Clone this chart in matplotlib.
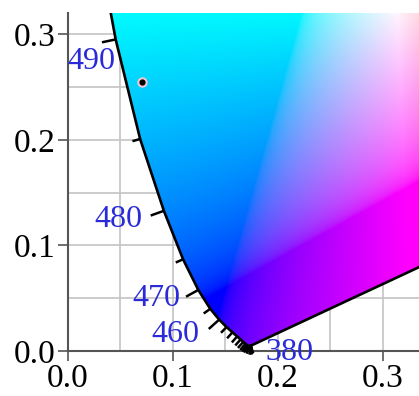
#!/usr/bin/env python3
import matplotlib
matplotlib.use("Agg")
import matplotlib.pyplot as plt
import numpy as np
from matplotlib.patches import Polygon
from matplotlib.ticker import MultipleLocator

plt.rcParams["font.family"] = "Liberation Serif"

# --- Data: CIE 1931 2-degree spectral locus, 5 nm steps ---
wavelengths = np.arange(380, 705, 5)
locus_x = np.array([
    0.1741, 0.1740, 0.1738, 0.1736, 0.1733, 0.1730, 0.1726, 0.1721,
    0.1714, 0.1703, 0.1689, 0.1669, 0.1644, 0.1611, 0.1566, 0.1510,
    0.1440, 0.1355, 0.1241, 0.1096, 0.0913, 0.0687, 0.0454, 0.0235,
    0.0082, 0.0039, 0.0139, 0.0389, 0.0743, 0.1142, 0.1547, 0.1929,
    0.2296, 0.2658, 0.3016, 0.3373, 0.3731, 0.4087, 0.4441, 0.4788,
    0.5125, 0.5448, 0.5752, 0.6029, 0.6270, 0.6482, 0.6658, 0.6801,
    0.6915, 0.7006, 0.7079, 0.7140, 0.7190, 0.7230, 0.7260, 0.7283,
    0.7300, 0.7311, 0.7320, 0.7327, 0.7334, 0.7340, 0.7344, 0.7346,
    0.7347,
])
locus_y = np.array([
    0.0050, 0.0050, 0.0049, 0.0049, 0.0048, 0.0048, 0.0048, 0.0048,
    0.0051, 0.0058, 0.0069, 0.0086, 0.0109, 0.0138, 0.0177, 0.0227,
    0.0297, 0.0399, 0.0578, 0.0868, 0.1327, 0.2007, 0.2950, 0.4127,
    0.5384, 0.6548, 0.7502, 0.8120, 0.8338, 0.8262, 0.8059, 0.7816,
    0.7543, 0.7243, 0.6923, 0.6589, 0.6245, 0.5896, 0.5547, 0.5202,
    0.4866, 0.4544, 0.4242, 0.3965, 0.3725, 0.3514, 0.3340, 0.3197,
    0.3083, 0.2993, 0.2920, 0.2859, 0.2809, 0.2770, 0.2740, 0.2717,
    0.2700, 0.2689, 0.2680, 0.2673, 0.2666, 0.2660, 0.2656, 0.2654,
    0.2653,
])

labeled_nm = [380, 460, 470, 480, 490]

# marked chromaticity point
point_x = [0.0702]
point_y = [0.2545]

# --- Layout ---
xmax, ymax = 0.3343, 0.320
label_offsets = {  # pixels from locus point to label centre
    380: (39, -7),
    460: (-44, -15),
    470: (-42, -9),
    480: (-45, -9),
    490: (-24, -22),
}
blue = "#2a2ad8"

fig = plt.figure(figsize=(4.19, 3.96), dpi=100)
ax = fig.add_axes([68 / 419, 45 / 396, 351 / 419, 338 / 396])
ax.set_xlim(0, xmax)
ax.set_ylim(0, ymax)

# --- Colour fill inside the locus ---
gx = np.linspace(0, xmax, 500)
gy = np.linspace(0, ymax, 480)
X, Y = np.meshgrid(gx, gy)
Y = np.maximum(Y, 1e-4)
xyz = np.stack([X / Y, np.ones_like(X), (1 - X - Y) / Y], axis=-1)
M = np.array([[3.2406, -1.5372, -0.4986],
              [-0.9689, 1.8758, 0.0415],
              [0.0557, -0.2040, 1.0570]])
rgb = np.clip(xyz @ M.T, 0, None)
rgb /= rgb.max(axis=-1, keepdims=True)
rgb = np.where(rgb <= 0.0031308, 12.92 * rgb, 1.055 * rgb ** (1 / 2.4) - 0.055)

im = ax.imshow(rgb, origin="lower", extent=[0, xmax, 0, ymax],
               aspect="auto", interpolation="bilinear", zorder=1)
poly = Polygon(np.column_stack([locus_x, locus_y]), closed=True,
               transform=ax.transData)
im.set_clip_path(poly)

ax.plot(np.append(locus_x, locus_x[0]), np.append(locus_y, locus_y[0]),
        color="black", lw=1.9, zorder=3, solid_joinstyle="round")

# --- Wavelength ticks (normal to the locus, outward) ---
pts = ax.transData.transform(np.column_stack([locus_x, locus_y]))
inv = ax.transData.inverted()
for i, nm in enumerate(wavelengths):
    if locus_y[i] > ymax or nm > 500:
        continue
    a = pts[max(i - 1, 0)]
    b = pts[min(i + 1, len(pts) - 1)]
    t = b - a
    t = t / np.hypot(*t)
    n = np.array([-t[1], t[0]])
    length = 14 if nm in labeled_nm and nm != 380 else 8
    end = inv.transform([pts[i], pts[i] + n * length])
    ax.plot(end[:, 0], end[:, 1], color="black", lw=1.8,
            clip_on=False, zorder=3, solid_capstyle="butt")

for nm in labeled_nm:
    i = list(wavelengths).index(nm)
    ax.annotate(str(nm), xy=(locus_x[i], locus_y[i]),
                xytext=label_offsets[nm], textcoords="offset pixels",
                ha="center", va="center", color=blue, fontsize=23,
                annotation_clip=False, zorder=4)

ax.plot(point_x, point_y, "o", color="black", markersize=6,
        markeredgecolor="#f2c6d0", markeredgewidth=1.5, zorder=5)

# --- Axes styling ---
ax.xaxis.set_major_locator(MultipleLocator(0.1))
ax.yaxis.set_major_locator(MultipleLocator(0.1))
ax.xaxis.set_minor_locator(MultipleLocator(0.05))
ax.yaxis.set_minor_locator(MultipleLocator(0.05))
ax.grid(True, which="both", color="#c4c4c4", lw=1.2, zorder=0)
ax.set_axisbelow(True)
ax.tick_params(which="major", direction="out", length=7, width=1.2,
               color="#555555", labelsize=24, pad=2)
ax.tick_params(which="minor", length=0)
ax.xaxis.set_major_formatter(plt.FormatStrFormatter("%.1f"))
ax.yaxis.set_major_formatter(plt.FormatStrFormatter("%.1f"))

for side in ["top", "right"]:
    ax.spines[side].set_visible(False)
for side in ["left", "bottom"]:
    ax.spines[side].set_color("#555555")
    ax.spines[side].set_linewidth(1.5)

plt.savefig("out.png", dpi=100)
